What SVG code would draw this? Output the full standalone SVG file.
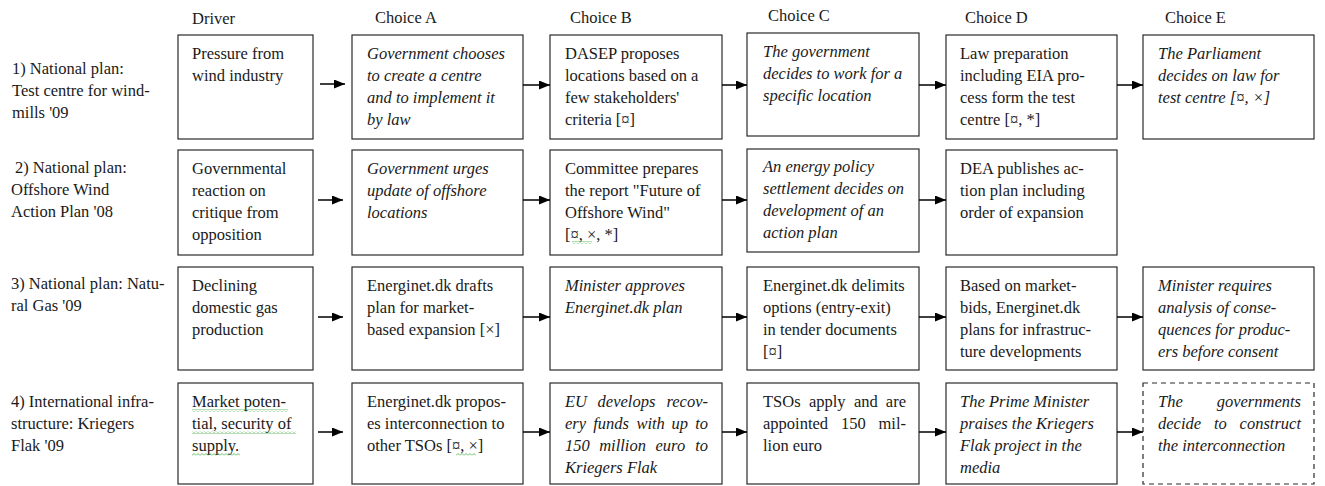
<svg xmlns="http://www.w3.org/2000/svg" width="1325" height="486" viewBox="0 0 1325 486">
<style>
.t{font-family:"Liberation Serif","Times New Roman",serif;font-size:16.5px;fill:#1a1a1a}
.i{font-style:italic}
.box{fill:#fff;stroke:#2a2a2a;stroke-width:1.2}
.dash{stroke-dasharray:5 4}
.arr{stroke:#000;stroke-width:1.5;fill:none;marker-end:url(#ah)}
.sq{fill:url(#sq)}
</style>
<defs>
<marker id="ah" markerUnits="userSpaceOnUse" markerWidth="11" markerHeight="9" refX="11" refY="4.5" orient="auto">
<path d="M0,0 L11,4.5 L0,9 z" fill="#000"/>
</marker>
<pattern id="sq" width="4" height="3" patternUnits="userSpaceOnUse">
<path d="M0,2.5 L2,0.5 L4,2.5" stroke="#3fae3f" stroke-width="0.8" fill="none"/>
</pattern>
</defs>
<rect width="1325" height="486" fill="#fff"/>

<g id="headers" class="t">
<text x="192" y="24">Driver</text>
<text x="375" y="23">Choice A</text>
<text x="570" y="23">Choice B</text>
<text x="768" y="21">Choice C</text>
<text x="965" y="23">Choice D</text>
<text x="1165" y="23">Choice E</text>
</g>

<g id="row-labels" class="t">
<text x="12" y="74"><tspan x="12">1) National plan:</tspan><tspan x="12" dy="22">Test centre for wind-</tspan><tspan x="12" dy="22">mills '09</tspan></text>
<text x="11" y="173"><tspan x="15">2) National plan:</tspan><tspan x="11" dy="22">Offshore Wind</tspan><tspan x="11" dy="22">Action Plan '08</tspan></text>
<text x="11" y="289"><tspan x="11">3) National plan: Natu-</tspan><tspan x="11" dy="22">ral Gas '09</tspan></text>
<text x="11" y="407"><tspan x="11">4) International infra-</tspan><tspan x="11" dy="22">structure: Kriegers</tspan><tspan x="11" dy="22">Flak '09</tspan></text>
</g>

<!-- Row 1 -->
<g id="r1-driver"><rect class="box" x="178" y="35" width="135" height="104"/>
<text class="t" y="59"><tspan x="192">Pressure from</tspan><tspan x="192" dy="22">wind industry</tspan></text></g>
<g id="r1-a"><rect class="box" x="352" y="35" width="171" height="104"/>
<text class="t i" y="59"><tspan x="367">Government chooses</tspan><tspan x="367" dy="22">to create a centre</tspan><tspan x="367" dy="22">and to implement it</tspan><tspan x="367" dy="22">by law</tspan></text></g>
<g id="r1-b"><rect class="box" x="550" y="35" width="172" height="104"/>
<text class="t" y="59"><tspan x="565">DASEP proposes</tspan><tspan x="565" dy="22">locations based on a</tspan><tspan x="565" dy="22">few stakeholders'</tspan><tspan x="565" dy="22">criteria [¤]</tspan></text></g>
<g id="r1-c"><rect class="box" x="747" y="33" width="172" height="103"/>
<text class="t i" y="57"><tspan x="763">The government</tspan><tspan x="763" dy="22">decides to work for a</tspan><tspan x="763" dy="22">specific location</tspan></text></g>
<g id="r1-d"><rect class="box" x="946" y="35" width="171" height="104"/>
<text class="t" y="59"><tspan x="960">Law preparation</tspan><tspan x="960" dy="22">including EIA pro-</tspan><tspan x="960" dy="22">cess form the test</tspan><tspan x="960" dy="22">centre [¤, *]</tspan></text></g>
<g id="r1-e"><rect class="box" x="1143" y="35" width="171" height="104"/>
<text class="t i" y="59"><tspan x="1158">The Parliament</tspan><tspan x="1158" dy="22">decides on law for</tspan><tspan x="1158" dy="22">test centre [¤, ×]</tspan></text></g>

<!-- Row 2 -->
<g id="r2-driver"><rect class="box" x="178" y="150" width="135" height="105"/>
<text class="t" y="174"><tspan x="192">Governmental</tspan><tspan x="192" dy="22">reaction on</tspan><tspan x="192" dy="22">critique from</tspan><tspan x="192" dy="22">opposition</tspan></text></g>
<g id="r2-a"><rect class="box" x="352" y="150" width="171" height="105"/>
<text class="t i" y="174"><tspan x="367">Government urges</tspan><tspan x="367" dy="22">update of offshore</tspan><tspan x="367" dy="22">locations</tspan></text></g>
<g id="r2-b"><rect class="box" x="550" y="150" width="172" height="105"/>
<text class="t" y="174"><tspan x="565">Committee prepares</tspan><tspan x="565" dy="22">the report "Future of</tspan><tspan x="565" dy="22">Offshore Wind"</tspan><tspan x="565" dy="22">[¤, ×, *]</tspan></text>
<rect class="sq" x="572" y="241" width="20" height="3"/></g>
<g id="r2-c"><rect class="box" x="747" y="149" width="172" height="103"/>
<text class="t i" y="172"><tspan x="763">An energy policy</tspan><tspan x="763" dy="22">settlement decides on</tspan><tspan x="763" dy="22">development of an</tspan><tspan x="763" dy="22">action plan</tspan></text></g>
<g id="r2-d"><rect class="box" x="946" y="150" width="171" height="105"/>
<text class="t" y="174"><tspan x="960">DEA publishes ac-</tspan><tspan x="960" dy="22">tion plan including</tspan><tspan x="960" dy="22">order of expansion</tspan></text></g>

<!-- Row 3 -->
<g id="r3-driver"><rect class="box" x="178" y="267" width="135" height="103"/>
<text class="t" y="291"><tspan x="192">Declining</tspan><tspan x="192" dy="22">domestic gas</tspan><tspan x="192" dy="22">production</tspan></text></g>
<g id="r3-a"><rect class="box" x="352" y="267" width="171" height="103"/>
<text class="t" y="291"><tspan x="367">Energinet.dk drafts</tspan><tspan x="367" dy="22">plan for market-</tspan><tspan x="367" dy="22">based expansion [×]</tspan></text></g>
<g id="r3-b"><rect class="box" x="550" y="267" width="172" height="103"/>
<text class="t i" y="291"><tspan x="565">Minister approves</tspan><tspan x="565" dy="22">Energinet.dk plan</tspan></text></g>
<g id="r3-c"><rect class="box" x="747" y="267" width="172" height="103"/>
<text class="t" y="291"><tspan x="763">Energinet.dk delimits</tspan><tspan x="763" dy="22">options (entry-exit)</tspan><tspan x="763" dy="22">in tender documents</tspan><tspan x="763" dy="22">[¤]</tspan></text></g>
<g id="r3-d"><rect class="box" x="946" y="267" width="171" height="103"/>
<text class="t" y="291"><tspan x="960">Based on market-</tspan><tspan x="960" dy="22">bids, Energinet.dk</tspan><tspan x="960" dy="22">plans for infrastruc-</tspan><tspan x="960" dy="22">ture developments</tspan></text></g>
<g id="r3-e"><rect class="box" x="1143" y="267" width="171" height="103"/>
<text class="t i" y="291"><tspan x="1158">Minister requires</tspan><tspan x="1158" dy="22">analysis of conse-</tspan><tspan x="1158" dy="22">quences for produc-</tspan><tspan x="1158" dy="22">ers before consent</tspan></text></g>

<!-- Row 4 -->
<g id="r4-driver"><rect class="box" x="178" y="383" width="135" height="101"/>
<text class="t" y="407"><tspan x="192">Market poten-</tspan><tspan x="192" dy="22">tial, security of</tspan><tspan x="192" dy="22">supply.</tspan></text>
<rect class="sq" x="192" y="409" width="96" height="3"/>
<rect class="sq" x="192" y="431" width="104" height="3"/>
<rect class="sq" x="192" y="453" width="48" height="3"/></g>
<g id="r4-a"><rect class="box" x="352" y="383" width="171" height="101"/>
<text class="t" y="407"><tspan x="367">Energinet.dk propos-</tspan><tspan x="367" dy="22">es interconnection to</tspan><tspan x="367" dy="22">other TSOs [¤, ×]</tspan></text>
<rect class="sq" x="456" y="453" width="20" height="3"/></g>
<g id="r4-b"><rect class="box" x="550" y="383" width="172" height="101"/>
<g class="t i">
<text x="565" y="407">EU</text><text x="597.6" y="407">develops</text><text x="708" y="407" text-anchor="end">recov-</text>
<text x="565" y="429">ery</text><text x="593.2" y="429">funds</text><text x="636.4" y="429">with</text><text x="671.6" y="429">up</text><text x="708" y="429" text-anchor="end">to</text>
<text x="565" y="451">150</text><text x="599.2" y="451">million</text><text x="655.5" y="451">euro</text><text x="708" y="451" text-anchor="end">to</text>
<text x="565" y="473">Kriegers Flak</text>
</g></g>
<g id="r4-c"><rect class="box" x="747" y="383" width="172" height="101"/>
<g class="t">
<text x="763" y="407">TSOs</text><text x="808.9" y="407">apply</text><text x="853.9" y="407">and</text><text x="906" y="407" text-anchor="end">are</text>
<text x="763" y="429">appointed</text><text x="840.9" y="429">150</text><text x="906" y="429" text-anchor="end">mil-</text>
<text x="763" y="451">lion euro</text>
</g></g>
<g id="r4-d"><rect class="box" x="946" y="383" width="171" height="101"/>
<text class="t i" y="407"><tspan x="960">The Prime Minister</tspan><tspan x="960" dy="22">praises the Kriegers</tspan><tspan x="960" dy="22">Flak project in the</tspan><tspan x="960" dy="22">media</tspan></text></g>
<g id="r4-e"><rect class="box dash" x="1143" y="383" width="171" height="101"/>
<g class="t i">
<text x="1158" y="407">The</text><text x="1301" y="407" text-anchor="end">governments</text>
<text x="1158" y="429">decide</text><text x="1213.9" y="429">to</text><text x="1301" y="429" text-anchor="end">construct</text>
<text x="1158" y="451">the interconnection</text>
</g></g>

<g id="connectors">
<line class="arr" x1="320" y1="84" x2="345" y2="84"/>
<line class="arr" x1="523" y1="85" x2="550" y2="85"/>
<line class="arr" x1="722" y1="85" x2="747" y2="85"/>
<line class="arr" x1="919" y1="85" x2="946" y2="85"/>
<line class="arr" x1="1117" y1="85" x2="1143" y2="85"/>

<line class="arr" x1="318" y1="200" x2="343" y2="200"/>
<line class="arr" x1="523" y1="200" x2="550" y2="200"/>
<line class="arr" x1="722" y1="200" x2="747" y2="200"/>
<line class="arr" x1="919" y1="200" x2="946" y2="200"/>

<line class="arr" x1="318" y1="317" x2="343" y2="317"/>
<line class="arr" x1="523" y1="317" x2="550" y2="317"/>
<line class="arr" x1="722" y1="317" x2="747" y2="317"/>
<line class="arr" x1="919" y1="317" x2="946" y2="317"/>
<line class="arr" x1="1117" y1="317" x2="1143" y2="317"/>

<line class="arr" x1="318" y1="432" x2="343" y2="432"/>
<line class="arr" x1="523" y1="432" x2="550" y2="432"/>
<line class="arr" x1="722" y1="432" x2="747" y2="432"/>
<line class="arr" x1="919" y1="432" x2="946" y2="432"/>
<line class="arr" x1="1117" y1="432" x2="1143" y2="432"/>
</g>
</svg>
